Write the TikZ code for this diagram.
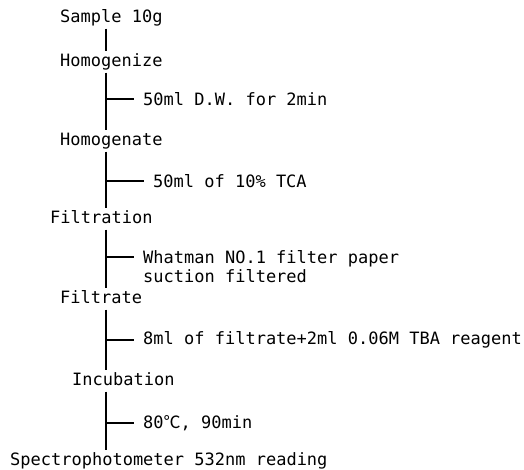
\documentclass[tikz,border=0pt]{standalone}
\usepackage{fontspec}
\setmonofont{DejaVu Sans Mono}
\newfontfamily\cjkfont{Noto Sans CJK JP}
\usetikzlibrary{positioning,calc}

\begin{document}
\begin{tikzpicture}[x=1pt, y=-1pt,
    stepname/.style={
      font=\ttfamily\fontsize{17}{19}\selectfont,
      text height=13pt, text depth=4pt,
      inner xsep=0pt, inner ysep=2pt, anchor=west
    },
    cond/.style={
      font=\ttfamily\fontsize{17}{19}\selectfont,
      inner xsep=9pt, inner ysep=0pt, anchor=west, align=left
    },
    spine/.style={line width=1.8pt},
    branch/.style={line width=1.2pt}
  ]
  \useasboundingbox (0,0) rectangle (524,470);
  \coordinate (axis) at (106,0);

  \node[stepname] (s1) at (60,18)  {Sample 10g};
  \node[stepname] (s2) at (60,62)  {Homogenize};
  \node[stepname] (s3) at (60,141) {Homogenate};
  \node[stepname] (s4) at (50,219) {Filtration};
  \node[stepname] (s5) at (60,299) {Filtrate};
  \node[stepname] (s6) at (72,381) {Incubation};
  \node[stepname] (s7) at (10,461) {Spectrophotometer 532nm reading};

  \node[cond] (c2) at (134,99)  {50ml D.W. for 2min};
  \node[cond] (c3) at (144,181) {50ml of 10\% TCA};
  \node[cond] (c4) at (134,267) {Whatman NO.1 filter paper\\suction filtered};
  \node[cond] (c5) at (134,340) {8ml of filtrate+2ml 0.06M TBA reagent};
  \node[cond] (c6) at (134,423) {80{\cjkfont ℃}, 90min};

  \draw[spine] (s1.south -| axis) -- (s2.north -| axis);
  \draw[spine] (s2.south -| axis) -- (s3.north -| axis);
  \draw[spine] (s3.south -| axis) -- (s4.north -| axis);
  \draw[spine] (s4.south -| axis) -- (s5.north -| axis);
  \draw[spine] (s5.south -| axis) -- (s6.north -| axis);
  \draw[spine] (s6.south -| axis) -- (s7.north -| axis);

  \coordinate (b4) at (106,257);
  \draw[branch] (c2.west -| axis) -- (c2.west);
  \draw[branch] (c3.west -| axis) -- (c3.west);
  \draw[branch] (b4) -- (b4 -| c4.west);
  \draw[branch] (c5.west -| axis) -- (c5.west);
  \draw[branch] (c6.west -| axis) -- (c6.west);

\end{tikzpicture}
\end{document}
